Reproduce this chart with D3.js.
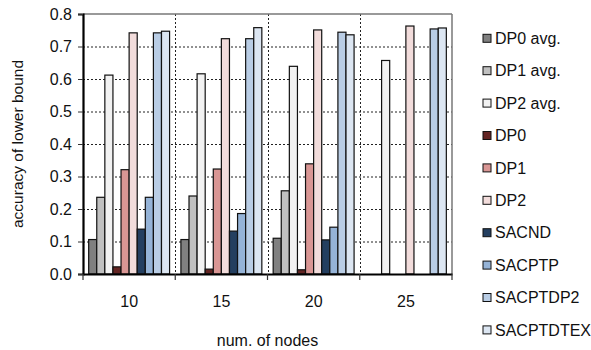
<!DOCTYPE html>
<html>
<head>
<meta charset="utf-8">
<script src="https://cdn.jsdelivr.net/npm/d3@7"></script>
<style>
  body { margin: 0; background: #fff; }
  text { font-family: "Liberation Sans", Arial, sans-serif; fill: #111; }
</style>
</head>
<body>
<div id="chart"></div>
<script>
const groups = ["10", "15", "20", "25"];
const seriesNames = ["DP0 avg.", "DP1 avg.", "DP2 avg.", "DP0", "DP1", "DP2",
  "SACND", "SACPTP", "SACPTDP2", "SACPTDTEX"];
const seriesColors = ["#808080", "#c0c0c0", "#f2f2f2", "#632523", "#d99694", "#f2dcdb",
  "#243f60", "#95b3d7", "#b9cde5", "#dce6f2"];
// one array per series, values for groups 10, 15, 20, 25 (null = no bar)
const dp0avg    = [0.106, 0.106, 0.110, null];
const dp1avg    = [0.236, 0.240, 0.256, null];
const dp2avg    = [0.612, 0.616, 0.639, 0.657];
const dp0       = [0.022, 0.015, 0.013, null];
const dp1       = [0.321, 0.323, 0.339, null];
const dp2       = [0.742, 0.724, 0.751, 0.763];
const sacnd     = [0.138, 0.132, 0.105, null];
const sacptp    = [0.236, 0.186, 0.144, null];
const sacptdp2  = [0.742, 0.724, 0.744, 0.754];
const sacptdtex = [0.747, 0.758, 0.736, 0.757];
const yTicks = [0, 0.1, 0.2, 0.3, 0.4, 0.5, 0.6, 0.7, 0.8];

const allSeries = [dp0avg, dp1avg, dp2avg, dp0, dp1, dp2, sacnd, sacptp, sacptdp2, sacptdtex];

const width = 591, height = 350,
  margin = ({top: 14, right: 139, bottom: 76, left: 83});

const svg = d3.select("#chart").append("svg")
  .attr("width", width).attr("height", height)
  .attr("viewBox", [0, 0, width, height]);

const x = d3.scaleBand()
  .domain(groups)
  .range([margin.left, width - margin.right])
  .paddingInner(0).paddingOuter(0);

const xInner = d3.scaleBand()
  .domain(seriesNames)
  .range([0, x.bandwidth()])
  .paddingOuter(0.7).paddingInner(0);

const y = d3.scaleLinear()
  .domain([0, 0.8])
  .range([height - margin.bottom, margin.top]);

// horizontal dotted grid
svg.append("g")
  .selectAll("line")
  .data(yTicks.slice(1, -1))
  .join("line")
  .attr("x1", margin.left).attr("x2", width - margin.right)
  .attr("y1", d => y(d) + 0.5).attr("y2", d => y(d) + 0.5)
  .attr("stroke", "#222").attr("stroke-dasharray", "2,2");

// vertical dotted grid at group boundaries
svg.append("g")
  .selectAll("line")
  .data(groups.slice(1))
  .join("line")
  .attr("x1", d => Math.round(x(d)) + 0.5).attr("x2", d => Math.round(x(d)) + 0.5)
  .attr("y1", margin.top).attr("y2", height - margin.bottom)
  .attr("stroke", "#222").attr("stroke-dasharray", "2,2");

// top and right frame
svg.append("line")
  .attr("x1", margin.left).attr("x2", width - margin.right)
  .attr("y1", y(0.8)).attr("y2", y(0.8))
  .attr("stroke", "#777").attr("stroke-width", 1.5);
svg.append("line")
  .attr("x1", width - margin.right).attr("x2", width - margin.right)
  .attr("y1", margin.top).attr("y2", height - margin.bottom)
  .attr("stroke", "#777").attr("stroke-width", 1.5);

// bars
const group = svg.append("g")
  .selectAll("g")
  .data(groups)
  .join("g")
  .attr("transform", d => `translate(${x(d)},0)`);

group.selectAll("rect")
  .data((g, gi) => seriesNames.map((s, si) => ({s, si, v: allSeries[si][gi]})).filter(d => d.v != null))
  .join("rect")
  .attr("x", d => xInner(d.s))
  .attr("width", xInner.bandwidth())
  .attr("y", d => y(d.v))
  .attr("height", d => y(0) - y(d.v))
  .attr("fill", d => seriesColors[d.si])
  .attr("stroke", "#111")
  .attr("stroke-width", 1.2);

// axes
const yAxis = svg.append("g")
  .attr("transform", `translate(${margin.left},0)`)
  .call(d3.axisLeft(y).tickValues(yTicks).tickFormat(d3.format(".1f")).tickSize(5).tickPadding(6));
yAxis.select(".domain").attr("stroke-width", 2.2).attr("stroke", "#000");
yAxis.selectAll(".tick line").attr("stroke", "#333");
yAxis.selectAll("text").attr("font-size", 16).attr("font-family", "Liberation Sans, Arial, sans-serif");

const xAxis = svg.append("g")
  .attr("transform", `translate(0,${height - margin.bottom})`)
  .call(d3.axisBottom(x).tickSize(0).tickPadding(22));
xAxis.select(".domain").attr("stroke-width", 2.2).attr("stroke", "#000");
xAxis.selectAll("text").attr("font-size", 16).attr("font-family", "Liberation Sans, Arial, sans-serif");

// tick marks at group boundaries
svg.append("g")
  .selectAll("line")
  .data(groups.concat(["end"]))
  .join("line")
  .attr("x1", d => d === "end" ? width - margin.right : x(d))
  .attr("x2", d => d === "end" ? width - margin.right : x(d))
  .attr("y1", height - margin.bottom).attr("y2", height - margin.bottom + 6)
  .attr("stroke", "#333").attr("stroke-width", 1.2);

// axis titles
svg.append("text")
  .attr("transform", `translate(18,${(margin.top + height - margin.bottom) / 2}) rotate(-90)`)
  .attr("text-anchor", "middle")
  .attr("dy", "0.35em")
  .attr("font-size", 15.5)
  .text("accuracy of lower bound");

svg.append("text")
  .attr("x", (margin.left + width - margin.right) / 2)
  .attr("y", 340)
  .attr("text-anchor", "middle")
  .attr("dy", "0.35em")
  .attr("font-size", 16)
  .text("num. of nodes");

// legend
const legend = svg.append("g")
  .selectAll("g")
  .data(seriesNames)
  .join("g")
  .attr("transform", (d, i) => `translate(483,${38.3 + i * 32.4})`);

legend.append("rect")
  .attr("x", 0).attr("y", -4)
  .attr("width", 8).attr("height", 8)
  .attr("fill", (d, i) => seriesColors[i])
  .attr("stroke", "#111").attr("stroke-width", 1);

legend.append("text")
  .attr("x", 12).attr("dy", "0.35em")
  .attr("font-size", 16)
  .text(d => d);
</script>
</body>
</html>
